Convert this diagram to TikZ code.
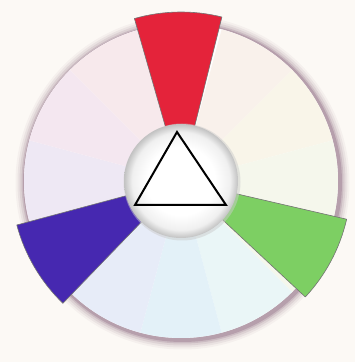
\documentclass[tikz,border=0pt]{standalone}
\usetikzlibrary{calc,shadings}
\definecolor{bgc}{HTML}{FCF9F5}
\definecolor{shd}{HTML}{86607A}
\definecolor{redseg}{HTML}{E4233A}
\definecolor{greenseg}{HTML}{7DCF63}
\definecolor{blueseg}{HTML}{4628B0}
\definecolor{pA}{HTML}{F9F1EB}
\definecolor{pB}{HTML}{F9F5E9}
\definecolor{pC}{HTML}{F5F7EC}
\definecolor{pD}{HTML}{EAF6F7}
\definecolor{pE}{HTML}{E3F1F8}
\definecolor{pF}{HTML}{E7ECF8}
\definecolor{pG}{HTML}{EEE8F4}
\definecolor{pH}{HTML}{F4E7F0}
\definecolor{pI}{HTML}{F7E9EC}
\pgfdeclareradialshading{ballshade}{\pgfpoint{0bp}{0bp}}{color(0bp)=(white); color(15bp)=(white); color(21.5bp)=(black!6); color(25bp)=(black!24); color(50bp)=(black!24)}
\tikzset{
  hiseg/.style={draw=black!55, line width=0.6pt, line join=round},
  tri/.style={draw=black, line width=2pt, line join=miter}
}
\newcommand{\annseg}[5]{% style, a1, a2, rin, rout
  \path[#1] ($(c)+(#2:#4)$) arc[start angle=#2, end angle=#3, radius=#4] -- ($(c)+(#3:#5)$) arc[start angle=#3, end angle=#2, radius=#5] -- cycle;
}
\begin{document}
\begin{tikzpicture}[x=1pt,y=1pt]
\useasboundingbox (0,0) rectangle (355,362);
\fill[bgc] (0,0) rectangle (355,362);
\coordinate (c) at (181,181);
% shadow ring
\foreach \r/\o in {167/0.06,165/0.09,163/0.13,161/0.2,159.5/0.3}{
  \fill[shd, opacity=\o] (182.5,179.5) circle (\r);
}
% pale wheel
\fill[white] (c) circle (157);
\foreach \a/\c in {45/pA,15/pB,-15/pC,-45/pC,-75/pD,-105/pE,-135/pF,165/pG,135/pH,105/pI}{
  \fill[\c] (c) -- ++(\a:157) arc[start angle=\a, end angle=\a+30, radius=157] -- cycle;
}
% highlighted segments
\annseg{fill=redseg, hiseg}{76}{106}{56}{169}
\annseg{fill=greenseg, hiseg}{-43}{-13}{56}{170}
\annseg{fill=blueseg, hiseg}{195}{226}{56}{170}
% center ball
\fill[black!20, opacity=0.5] (182,180) circle (58.5);
\shade[shading=ballshade] (c) circle (57);
% triangle
\coordinate (t1) at (177,230);
\coordinate (t2) at (135,157);
\coordinate (t3) at (226,157);
\draw[tri] (t1) -- (t2) -- (t3) -- cycle;
\end{tikzpicture}
\end{document}
